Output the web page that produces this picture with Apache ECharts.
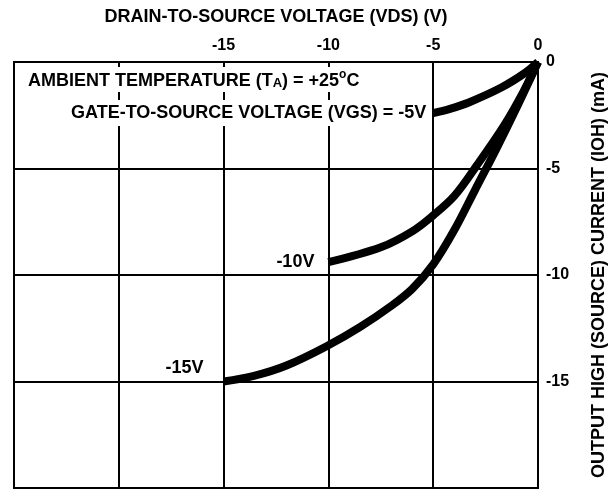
<!DOCTYPE html>
<html>
<head>
<meta charset="utf-8">
<script src="https://cdn.jsdelivr.net/npm/echarts@6/dist/echarts.min.js"></script>
<style>
  html, body { margin: 0; background: #fff; }
  #chart { width: 616px; height: 493px; }
</style>
</head>
<body>
<div id="chart"></div>
<script>
// VDS (V) vs IOH (mA)
const vgs5 = [[0, 0], [-0.6, -0.5], [-1.75, -1.2], [-3.3, -1.9], [-4.2, -2.2], [-5, -2.4]];
const vgs10 = [[0, 0], [-0.7, -1.4], [-1.6, -2.95], [-2.95, -4.9], [-4, -6.3], [-5, -7.2], [-6, -7.95], [-7.5, -8.7], [-10, -9.4]];
const vgs15 = [[0, 0], [-1, -2.1], [-2, -4.1], [-3, -6.0], [-4, -7.9], [-5, -9.5], [-6, -10.65], [-7, -11.45], [-8.5, -12.45], [-10, -13.3], [-12, -14.25], [-13.6, -14.75], [-15, -15]];
const curveLabels = ["GATE-TO-SOURCE VOLTAGE (VGS) = -5V", "-10V", "-15V"];
const xLabelled = [-15, -10, -5, 0];
const yLabelled = [0, -5, -10, -15];

const FONT = "'Liberation Sans Narrow', 'Arial Narrow', 'Liberation Sans', sans-serif";

const chart = echarts.init(document.getElementById("chart"));

function curve(data, label, labelOpts) {
  return {
    type: "line",
    data: data,
    smooth: 0.35,
    symbol: "none",
    lineStyle: { color: "#000", width: 8 },
    z: 3,
    markPoint: {
      symbol: "circle",
      symbolSize: 0,
      z: 5,
      data: [{ coord: data[data.length - 1] }],
      label: Object.assign({
        show: true,
        formatter: label,
        color: "#000",
        fontFamily: FONT,
        fontWeight: "bold",
        fontSize: 18,
        position: "left",
        backgroundColor: "#fff",
      }, labelOpts),
    },
  };
}

chart.setOption({
  animation: false,
  backgroundColor: "#fff",
  grid: {
    left: 14, right: 76, top: 62, bottom: 5,
    show: true, borderColor: "#000", borderWidth: 2,
  },
  xAxis: {
    type: "value",
    position: "top",
    min: -25, max: 0, interval: 5,
    axisLine: { show: false },
    axisTick: { show: false },
    splitLine: { lineStyle: { color: "#000", width: 2 } },
    axisLabel: {
      formatter: v => xLabelled.includes(v) ? String(v) : "",
      color: "#000", fontFamily: FONT, fontWeight: "bold", fontSize: 16, margin: 8,
    },
    name: "DRAIN-TO-SOURCE VOLTAGE (VDS) (V)",
    nameLocation: "middle",
    nameGap: 36,
    nameTextStyle: { color: "#000", fontFamily: FONT, fontWeight: "bold", fontSize: 18 },
  },
  yAxis: {
    type: "value",
    position: "right",
    min: -20, max: 0, interval: 5,
    axisLine: { show: false },
    axisTick: { show: false },
    splitLine: { lineStyle: { color: "#000", width: 2 } },
    axisLabel: {
      formatter: v => yLabelled.includes(v) ? String(v) : "",
      color: "#000", fontFamily: FONT, fontWeight: "bold", fontSize: 16, margin: 8,
    },
    name: "OUTPUT HIGH (SOURCE) CURRENT (IOH) (mA)",
    nameLocation: "middle",
    nameRotate: 90,
    nameGap: 52,
    nameTextStyle: { color: "#000", fontFamily: FONT, fontWeight: "bold", fontSize: 18 },
  },
  graphic: [{
    type: "text",
    left: 26, top: 67, z: 100,
    style: {
      text: "{a|AMBIENT TEMPERATURE (T}{s|A}{a|) = +25}{u|o}{a|C}",
      backgroundColor: "#fff",
      padding: [2, 2],
      rich: {
        a: { fontFamily: FONT, fontWeight: "bold", fontSize: 18, fill: "#000", verticalAlign: "bottom" },
        s: { fontFamily: FONT, fontWeight: "bold", fontSize: 13, fill: "#000", padding: [6, 0, 0, 0], verticalAlign: "bottom" },
        u: { fontFamily: FONT, fontWeight: "bold", fontSize: 12, fill: "#000", padding: [0, 0, 9, 0] },
      },
    },
  }],
  series: [
    curve(vgs5, curveLabels[0], { distance: 5, padding: [4, 2] }),
    curve(vgs10, curveLabels[1], { distance: 12, padding: [2, 2] }),
    curve(vgs15, curveLabels[2], { distance: 18, offset: [0, -13], padding: [2, 2] }),
  ],
});
</script>
</body>
</html>
